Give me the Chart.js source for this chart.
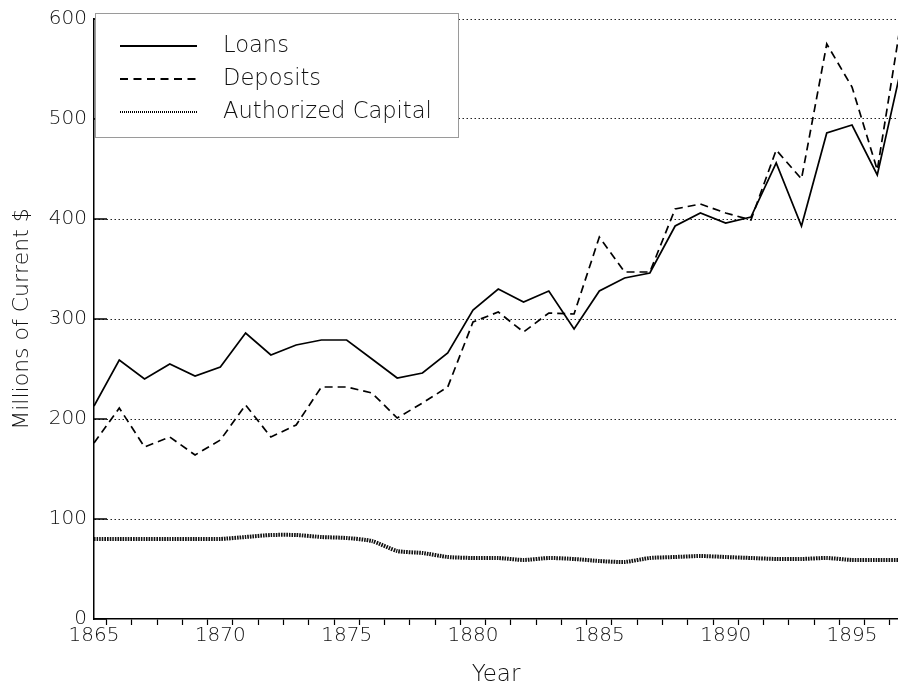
<!DOCTYPE html>
<html>
<head>
<meta charset="utf-8">
<script src="https://cdn.jsdelivr.net/npm/chart.js@4.4.0/dist/chart.umd.min.js"></script>
<style>
  html, body { margin: 0; padding: 0; background: #fff; overflow: hidden; }
  #wrap { width: 898px; height: 683px; }
</style>
</head>
<body>
<div id="wrap"><canvas id="bankChart" width="898" height="683"></canvas></div>
<script>
const years = [1865, 1866, 1867, 1868, 1869, 1870, 1871, 1872, 1873, 1874, 1875,
  1876, 1877, 1878, 1879, 1880, 1881, 1882, 1883, 1884, 1885, 1886,
  1887, 1888, 1889, 1890, 1891, 1892, 1893, 1894, 1895, 1896, 1897];
const loans = [213, 259, 240, 255, 243, 252, 286, 264, 274, 279, 279,
  260, 241, 246, 266, 309, 330, 317, 328, 290, 328, 341,
  346, 393, 406, 396, 402, 456, 393, 486, 494, 444, 557];
const deposits = [176, 211, 172, 182, 164, 179, 214, 182, 194, 232, 232,
  226, 201, 216, 232, 297, 307, 287, 306, 305, 382, 347,
  347, 410, 415, 406, 399, 469, 440, 575, 532, 449, 607];
const capital = [80, 80, 80, 80, 80, 80, 82, 84, 84, 82, 81,
  78, 68, 66, 62, 61, 61, 59, 61, 60, 58, 57,
  61, 62, 63, 62, 61, 60, 60, 61, 59, 59, 59];
const seriesNames = ['Loans', 'Deposits', 'Authorized Capital'];
const yTickValues = [0, 100, 200, 300, 400, 500, 600];
const xLabelYears = [1865, 1870, 1875, 1880, 1885, 1890, 1895];

const FONT = '"DejaVu Sans", "Liberation Sans", sans-serif';
const TEXT = '#111';

const toPoints = vals => years.map((yr, i) => ({ x: yr, y: vals[i] }));

// short solid ticks pointing into the plot from the y axis
const innerTicks = {
  id: 'innerTicks',
  afterDatasetsDraw(chart) {
    const { ctx, chartArea, scales: { y } } = chart;
    ctx.save();
    ctx.strokeStyle = '#000';
    ctx.lineWidth = 1.5;
    y.ticks.forEach(t => {
      const py = Math.round(y.getPixelForValue(t.value));
      ctx.beginPath();
      ctx.moveTo(chartArea.left, py);
      ctx.lineTo(chartArea.left + 13, py);
      ctx.stroke();
    });
    ctx.restore();
  }
};

// boxed legend in the top-left corner
const boxLegend = {
  id: 'boxLegend',
  afterDraw(chart) {
    const { ctx, chartArea } = chart;
    const x0 = chartArea.left + 1, y0 = chartArea.top - 6;
    const w = 363, h = 124;
    ctx.save();
    ctx.fillStyle = '#fff';
    ctx.fillRect(x0, y0, w, h);
    ctx.strokeStyle = '#9a9a9a';
    ctx.lineWidth = 1;
    ctx.strokeRect(x0 + 0.5, y0 + 0.5, w, h);
    const samples = [
      { width: 2, dash: [] },
      { width: 2, dash: [8, 5.5] },
      { width: 2, dash: [1, 1] }
    ];
    chart.data.datasets.forEach((ds, i) => {
      const ly = y0 + 33 + i * 33;
      ctx.strokeStyle = '#000';
      ctx.lineWidth = samples[i].width;
      ctx.setLineDash(samples[i].dash);
      ctx.beginPath();
      ctx.moveTo(x0 + 25, ly);
      ctx.lineTo(x0 + 102, ly);
      ctx.stroke();
      ctx.setLineDash([]);
      ctx.fillStyle = TEXT;
      ctx.font = '300 22.6px ' + FONT;
      ctx.textAlign = 'left';
      ctx.textBaseline = 'middle';
      ctx.fillText(ds.label, x0 + 128, ly);
    });
    ctx.restore();
  }
};

new Chart(document.getElementById('bankChart'), {
  type: 'line',
  data: {
    datasets: [
      { label: seriesNames[0], data: toPoints(loans), borderColor: '#000', borderWidth: 1.7,
        pointRadius: 0, tension: 0 },
      { label: seriesNames[1], data: toPoints(deposits), borderColor: '#000', borderWidth: 1.7,
        borderDash: [8, 5], pointRadius: 0, tension: 0 },
      { label: seriesNames[2], data: toPoints(capital), borderColor: '#111', borderWidth: 4,
        borderDash: [1.6, 1], pointRadius: 0, tension: 0.2 }
    ]
  },
  options: {
    responsive: false,
    animation: false,
    devicePixelRatio: 1,
    layout: { padding: { top: 19, right: 0, bottom: 0, left: 0 } },
    plugins: { legend: { display: false }, tooltip: { enabled: false } },
    scales: {
      x: {
        type: 'linear',
        min: 1865,
        max: 1896.82,
        afterBuildTicks(scale) {
          const marks = years.slice(0, -1).map(yr => yr + 0.5);
          scale.ticks = marks.concat(xLabelYears).sort((a, b) => a - b).map(v => ({ value: v }));
        },
        ticks: {
          autoSkip: false,
          maxRotation: 0,
          padding: 1,
          color: TEXT,
          font: { family: FONT, size: 20, weight: 300, lineHeight: 1 },
          callback: v => xLabelYears.includes(v) ? String(v) : ''
        },
        grid: {
          drawOnChartArea: false,
          drawTicks: true,
          tickLength: 6,
          tickWidth: 1.2,
          tickColor: c => (c.tick && Number.isInteger(c.tick.value)) ? 'rgba(0,0,0,0)' : '#000'
        },
        border: { color: '#000', width: 1.5 },
        title: {
          display: true, text: 'Year', color: TEXT,
          font: { family: FONT, size: 23, weight: 300, lineHeight: 1 },
          padding: { top: 0, bottom: -4 }
        },
        afterFit(scale) { scale.height = 64; }
      },
      y: {
        min: 0,
        max: 600,
        afterBuildTicks(scale) {
          scale.ticks = yTickValues.map(v => ({ value: v }));
        },
        ticks: {
          padding: 7,
          color: TEXT,
          font: { family: FONT, size: 20, weight: 300, lineHeight: 1 }
        },
        grid: {
          drawTicks: false,
          lineWidth: 1,
          color: c => (c.tick && c.tick.value === 0) ? 'rgba(0,0,0,0)' : '#222'
        },
        border: { color: '#000', width: 1.5, dash: [1.5, 2.5] },
        title: {
          display: true, text: 'Millions of Current $', color: TEXT,
          font: { family: FONT, size: 22, weight: 300, lineHeight: 1 },
          padding: { top: 11, bottom: 0 }
        },
        afterFit(scale) { scale.width = 94; }
      }
    }
  },
  plugins: [innerTicks, boxLegend]
});
</script>
</body>
</html>
